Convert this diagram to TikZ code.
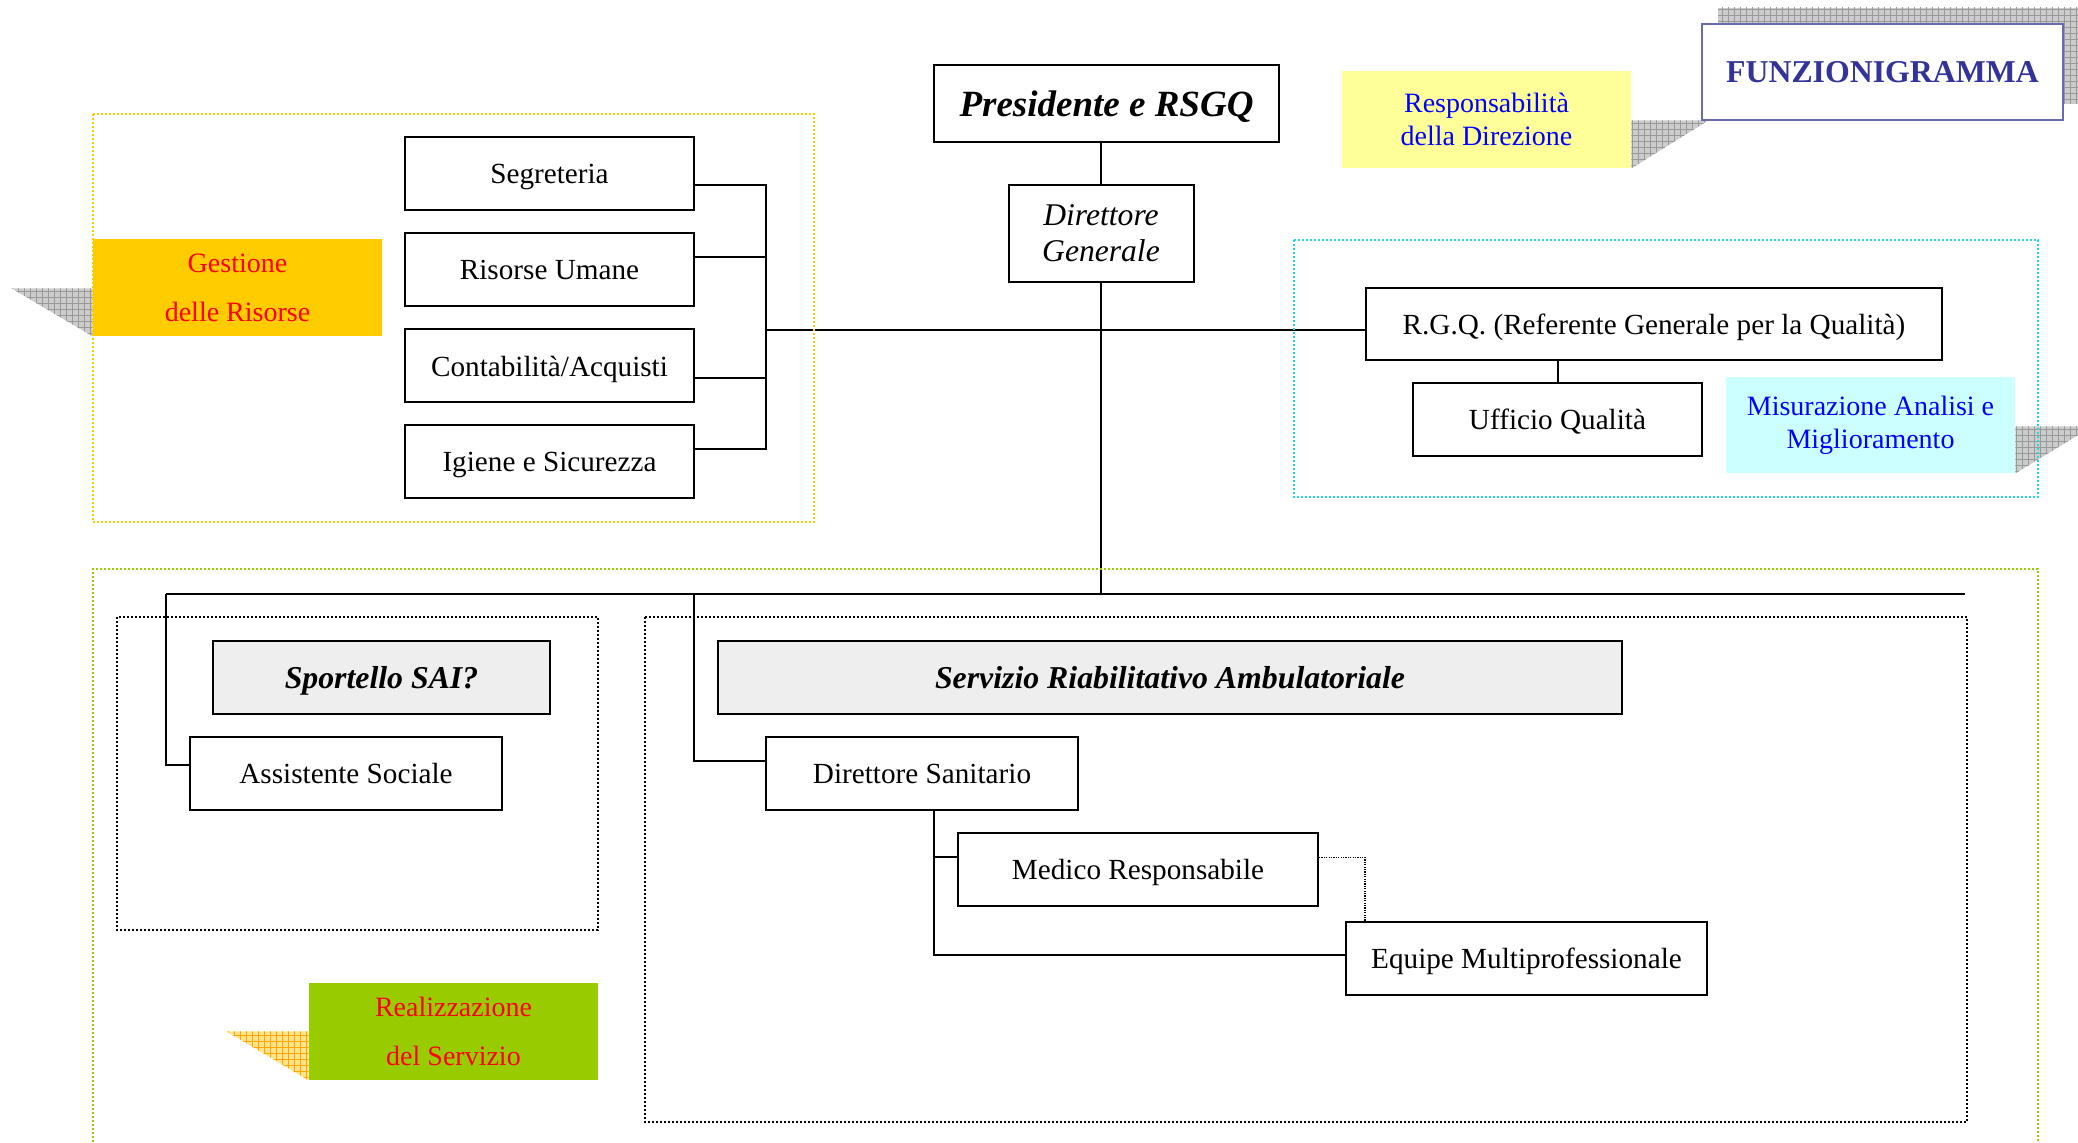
\documentclass[tikz,border=0pt]{standalone}
\usepackage{fontspec}
\setmainfont{Liberation Serif}
\usetikzlibrary{patterns}

\definecolor{gestgiallo}{HTML}{FFCC00}
\definecolor{realverde}{HTML}{99CC00}
\definecolor{dirgiallo}{HTML}{FFFF99}
\definecolor{qualceleste}{HTML}{CCFFFF}
\definecolor{cornceleste}{HTML}{22D8E0}
\definecolor{titoloblu}{HTML}{333399}
\definecolor{titolobordo}{HTML}{6A6AAE}
\definecolor{grigiobox}{HTML}{EEEEEE}
\definecolor{ombragialla}{HTML}{FFE48C}

\begin{document}
\begin{tikzpicture}[x=0.5pt, y=-0.5pt]
	\tikzstyle{every node}=[inner sep=0pt, align=center]
	\tikzstyle{ruolo}=[draw, line width=1pt, fill=white, minimum height=36.5pt, text depth=0pt, font=\fontsize{14.6}{17}\selectfont]
	\tikzstyle{servizio}=[ruolo, fill=grigiobox, font=\fontsize{15.9}{19}\selectfont\bfseries\itshape]
	\tikzstyle{area}=[minimum width=144.5pt, minimum height=48.5pt, font=\fontsize{14}{24.5}\selectfont]
	\tikzstyle{ombra}=[preaction={fill=gray!40}, pattern=grid, pattern color=gray!80]
	\tikzstyle{ombragial}=[preaction={fill=ombragialla}, pattern=grid, pattern color=orange!70!yellow]
	\tikzstyle{cornice}=[line width=1pt, dash pattern=on 1pt off 1pt]
	\tikzstyle{linea}=[line width=1pt]

	\useasboundingbox (0,0) rectangle (2078,1143);

	% direzione
	\node [ruolo, line width=1.3pt, minimum width=172.5pt, minimum height=38.5pt, font=\fontsize{18.5}{22}\selectfont\bfseries\itshape] (pres) at (1106.5,103.5) {Presidente e RSGQ};
	\node [ruolo, minimum width=92.5pt, minimum height=48.5pt, font=\fontsize{15.8}{18}\selectfont\itshape] (dg) at (1101,233.5) {Direttore\\Generale};
	\draw [linea] (pres.south -| dg.north) -- (dg.north);

	\node [area, fill=dirgiallo, text=blue, font=\fontsize{14}{16.5}\selectfont] (respdir) at (1486.5,119.5) {Responsabilità\\della Direzione};
	\fill [ombra] (respdir.south east) -- ++(0,-48) -- ++(77,0) -- cycle;

	\fill [ombra] (1718,8) rectangle (2090,104);
	\node [draw=titolobordo, line width=1pt, fill=white, minimum width=180.5pt, minimum height=48pt, text depth=0pt, text=titoloblu, font=\fontsize{15.9}{19}\selectfont\bfseries] (funz) at (1882.5,72) {FUNZIONIGRAMMA};

	% gestione delle risorse
	\node [ruolo, minimum width=144.5pt] (seg) at (549.5,173.5) {Segreteria};
	\node [ruolo, minimum width=144.5pt] (ru) at (549.5,269.5) {Risorse Umane};
	\node [ruolo, minimum width=144.5pt] (cont) at (549.5,366) {Contabilità/Acquisti};
	\node [ruolo, minimum width=144.5pt] (igiene) at (549.5,461.5) {Igiene e Sicurezza};
	\coordinate (gbus) at (766,330);
	\draw [linea] ([yshift=-6pt]seg.east) -| (gbus) |- ([yshift=6pt]igiene.east);
	\draw [linea] ([yshift=6pt]ru.east) -- ++(72,0);
	\draw [linea] ([yshift=-6pt]cont.east) -- ++(72,0);

	\node [area, fill=gestgiallo, text=red] (gest) at (237.5,287.5) {Gestione\\delle Risorse};
	\fill [ombra] (gest.south west) -- ++(0,-48) -- ++(-81,0) -- cycle;

	% qualita
	\node [ruolo, minimum width=288pt, minimum height=36pt] (rgq) at (1654,324) {R.G.Q. (Referente Generale per la Qualità)};
	\node [ruolo, minimum width=144.5pt] (uq) at (1557.5,419.5) {Ufficio Qualità};
	\draw [linea] (gbus) -- (gbus -| rgq.west);
	\draw [linea] (uq.north) -- (uq.north |- rgq.south);

	\node [area, fill=qualceleste, text=blue, minimum height=48pt, font=\fontsize{14}{16.5}\selectfont] (misura) at (1870.5,425) {Misurazione Analisi e\\Miglioramento};
	\fill [ombra] (misura.south east) -- ++(0,-47) -- ++(77,0) -- cycle;

	% realizzazione del servizio
	\coordinate (busL) at (166,594);
	\coordinate (busS) at (694,594);
	\coordinate (busR) at (1965,594);
	\draw [linea] (busL) -- (busR);
	\draw [linea, line width=0.8pt] (dg.south) -- (dg.south |- busL);

	\node [servizio, minimum width=168.5pt] (sai) at (381.5,677.5) {Sportello SAI?};
	\node [ruolo, minimum width=156pt] (as) at (346,773.5) {Assistente Sociale};
	\draw [linea] (busL) |- ([yshift=4pt]as.west);

	\node [servizio, minimum width=452pt] (sra) at (1170,677.5) {Servizio Riabilitativo Ambulatoriale};
	\node [ruolo, minimum width=156pt] (ds) at (922,773.5) {Direttore Sanitario};
	\node [ruolo, minimum width=180pt] (mr) at (1138,869.5) {Medico Responsabile};
	\node [ruolo, minimum width=180.5pt] (em) at (1526.5,958.5) {Equipe Multiprofessionale};
	\draw [linea] (busS) |- ([yshift=6pt]ds.west);
	\draw [linea] ([xshift=6pt]ds.south) |- ([yshift=6pt]mr.west);
	\draw [linea] ([xshift=6pt]ds.south) |- ([yshift=2pt]em.west);
	\draw [line width=0.6pt, dash pattern=on 0.6pt off 0.6pt] ([yshift=6pt]mr.east) -| ([xshift=10pt]em.north west);

	\node [area, fill=realverde, text=red] (realizz) at (453.5,1031.5) {Realizzazione\\del Servizio};
	\fill [ombragial] (realizz.south west) -- ++(0,-49) -- ++(-82,0) -- cycle;

	% cornici
	\draw [cornice, gestgiallo] (93,114) rectangle (814,522);
	\draw [cornice, cornceleste] (1294,240) rectangle (2038,497);
	\draw [cornice, realverde] (93,1150) |- (2038,569) -- (2038,1150);
	\draw [cornice] (117,617) rectangle (598,930);
	\draw [cornice] (645,617) rectangle (1967,1122);
\end{tikzpicture}
\end{document}
